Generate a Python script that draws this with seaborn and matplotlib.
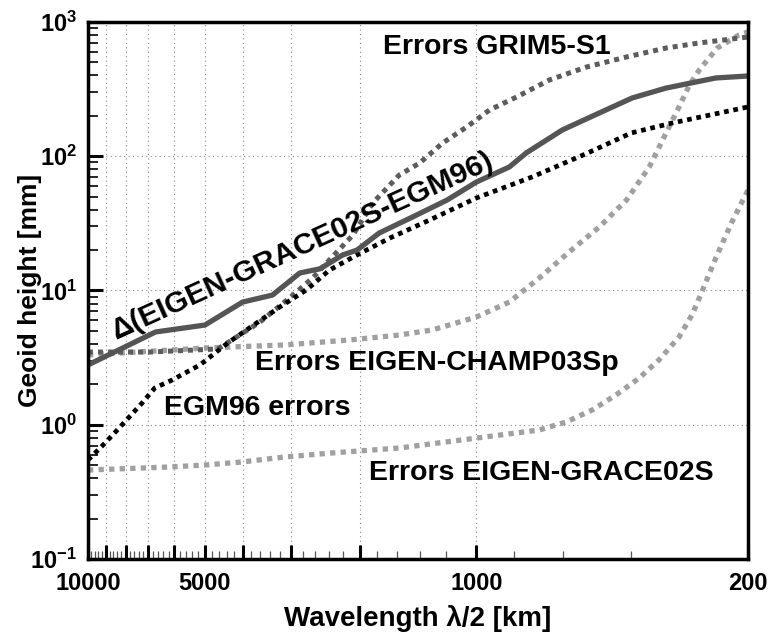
import numpy as np
import pandas as pd
import matplotlib
matplotlib.use("Agg")
import matplotlib.pyplot as plt
import matplotlib.ticker as mticker
import seaborn as sns

# data (wavelength lambda/2 in km, geoid height in mm)
delta_km = [10000, 6700, 5000, 4000, 3350, 2850, 2530, 2210, 2030, 1780, 1460, 1190, 1000, 823, 744, 601, 483, 397, 325, 242, 200]
delta_mm = [2.79, 4.91, 5.53, 8.2, 9.25, 13.5, 14.5, 18.4, 20.0, 26.8, 35.3, 47.2, 64.3, 83.2, 106, 157, 210, 272, 322, 383, 396]

egm_km = [10000, 9040, 8270, 7260, 6730, 6080, 5150, 4370, 3680, 3210, 2740, 2390, 2030, 1670, 1320, 1000, 720, 520, 400, 313, 200]
egm_mm = [0.546, 0.731, 0.962, 1.45, 1.88, 2.15, 2.79, 4.06, 5.73, 7.53, 10.1, 14.2, 18.4, 24.6, 33.5, 48.9, 70.0, 105, 149, 177, 233]

grim_km = [10000, 6930, 4630, 3610, 3030, 2640, 2390, 2080, 1850, 1580, 1400, 1220, 1060, 926, 789, 649, 521, 411, 325, 267, 200]
grim_mm = [3.48, 3.48, 3.67, 5.82, 8.79, 12.4, 16.9, 25.9, 44.8, 72.5, 89.1, 126, 165, 221, 276, 370, 462, 549, 640, 698, 773]

champ_km = [10000, 5000, 3120, 2120, 1580, 1300, 1000, 823, 689, 577, 483, 411, 359, 325, 301, 283, 267, 240, 211, 200]
champ_mm = [3.31, 3.73, 3.93, 4.28, 4.66, 5.08, 6.35, 8.2, 12.4, 19.4, 29.7, 47.2, 83.2, 149, 233, 340, 439, 640, 800, 843]

grace_km = [10000, 6230, 5000, 4020, 3120, 2360, 1580, 1000, 689, 587, 503, 437, 381, 339, 301, 278, 267, 242, 220, 200]
grace_mm = [0.460, 0.484, 0.501, 0.528, 0.575, 0.616, 0.671, 0.796, 0.914, 1.05, 1.29, 1.67, 2.23, 3.04, 4.5, 6.68, 8.79, 17.5, 32.4, 56.0]

x_major = [10000, 9000, 8000, 7000, 6000, 5000, 4000, 3000, 2000, 1000, 200]
x_major_labels = ["10000", "", "", "", "", "5000", "", "", "", "1000", "200"]
x_minor = [v for v in range(400, 10000, 200) if v not in x_major]
y_major = [0.1, 1, 10, 100, 1000]
y_major_labels = [r"$\mathdefault{10^{-1}}$", r"$\mathdefault{10^{0}}$", r"$\mathdefault{10^{1}}$",
                  r"$\mathdefault{10^{2}}$", r"$\mathdefault{10^{3}}$"]

sns.set_style("white")
plt.rcParams["font.family"] = ["Liberation Sans", "DejaVu Sans"]
plt.rcParams["font.weight"] = "bold"
plt.rcParams["text.color"] = "black"
plt.rcParams["axes.labelcolor"] = "black"
plt.rcParams["xtick.color"] = "black"
plt.rcParams["ytick.color"] = "black"

fig = plt.figure(figsize=(7.74, 6.41), dpi=100)
ax = fig.add_axes([88 / 774, 1 - 559 / 641, 660 / 774, 537 / 641])
ax.set_xscale("log")
ax.set_yscale("log")

dots = (0, (1, 1))
sns.lineplot(x=grace_km, y=grace_mm, ax=ax, sort=False, color="#a0a0a0", linewidth=3.8, linestyle=dots)
sns.lineplot(x=champ_km, y=champ_mm, ax=ax, sort=False, color="#a0a0a0", linewidth=3.8, linestyle=dots)
sns.lineplot(x=grim_km, y=grim_mm, ax=ax, sort=False, color="#5c5c5c", linewidth=3.6, linestyle=dots)
sns.lineplot(x=egm_km, y=egm_mm, ax=ax, sort=False, color="black", linewidth=3.4, linestyle=dots)
sns.lineplot(x=delta_km, y=delta_mm, ax=ax, sort=False, color="#555555", linewidth=3.8)

ax.set_xlim(10000, 200)
ax.set_ylim(0.1, 1000)

ax.xaxis.set_major_locator(mticker.FixedLocator(x_major))
ax.xaxis.set_major_formatter(mticker.FixedFormatter(x_major_labels))
ax.xaxis.set_minor_locator(mticker.FixedLocator(x_minor))
ax.xaxis.set_minor_formatter(mticker.NullFormatter())
ax.yaxis.set_major_locator(mticker.FixedLocator(y_major))
ax.yaxis.set_major_formatter(mticker.FixedFormatter(y_major_labels))
ax.yaxis.set_minor_locator(mticker.LogLocator(base=10, subs=np.arange(2, 10)))
ax.yaxis.set_minor_formatter(mticker.NullFormatter())

ax.tick_params(axis="x", which="major", direction="in", length=10, width=2.2, labelsize=17, pad=9,
               bottom=True, top=False, colors="black")
ax.tick_params(axis="x", which="minor", direction="in", length=5.5, width=0.9, color="#555555",
               bottom=True, top=False)
ax.tick_params(axis="y", which="major", direction="in", length=11, width=2.2, labelsize=17, pad=8,
               left=True, right=False, colors="black")
ax.tick_params(axis="y", which="minor", direction="in", length=7, width=1.2, left=True, right=False)

ax.grid(True, which="major", linestyle=(0, (1, 3)), color="#888888", linewidth=0.8)
for s in ax.spines.values():
    s.set_linewidth(2.5)
    s.set_color("black")

ax.set_xlabel("Wavelength λ/2 [km]", fontsize=20, fontweight="bold", color="black")
ax.xaxis.set_label_coords(0.5, -(605 - 559) / 537)
ax.set_ylabel("Geoid height [mm]", fontsize=19, fontweight="bold", color="black")
ax.yaxis.set_label_coords(-(88 - 42) / 660, 0.5)

lab = dict(fontsize=20.5, fontweight="bold", family=["Liberation Sans", "DejaVu Sans"], color="black")
ax.text(888, 578, "Errors GRIM5-S1", ha="center", va="baseline", **lab)
ax.text(2801, 21.5, "Δ(EIGEN-GRACE02S-EGM96)", ha="center", va="center", rotation=24.5,
        rotation_mode="anchor", fontsize=21.5, fontweight="bold", family=["Liberation Sans", "DejaVu Sans"],
        color="black")
ax.text(1267, 2.56, "Errors EIGEN-CHAMP03Sp", ha="center", va="baseline", **lab)
ax.text(3677, 1.18, "EGM96 errors", ha="center", va="baseline", **lab)
ax.text(681, 0.388, "Errors EIGEN-GRACE02S", ha="center", va="baseline", **lab)

fig.savefig("out.png", dpi=100)
